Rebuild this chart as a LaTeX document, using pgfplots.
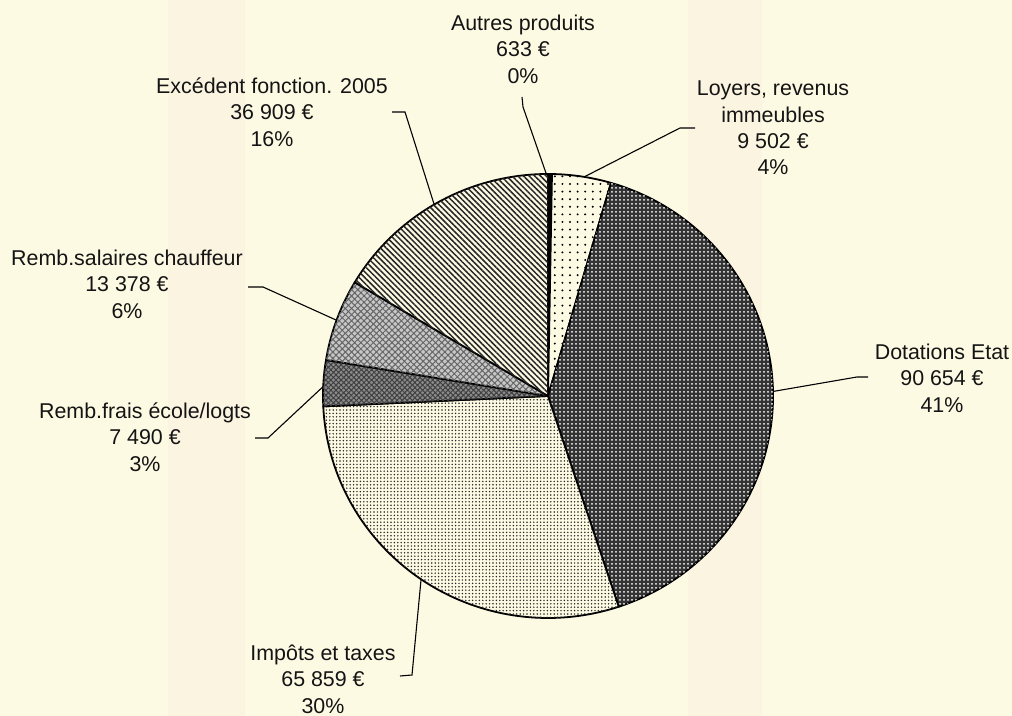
\documentclass[border=0pt]{standalone}
\usepackage{pgfplots}
\pgfplotsset{compat=1.18}
\usepackage{pgfplotstable}
\usepackage{fontspec}
\setmainfont{Liberation Sans}
\usetikzlibrary{patterns.meta}
\definecolor{paper}{RGB}{253,250,228}
\definecolor{band}{RGB}{251,244,225}
\definecolor{ink}{RGB}{20,20,20}

\pgfplotstableread{
name value
Autres 633
Loyers 9502
Dotations 90654
Impots 65859
Frais 7490
Salaires 13378
Excedent 36909
}\pietable
\pgfplotstablegetelem{0}{value}\of\pietable\let\vA\pgfplotsretval
\pgfplotstablegetelem{1}{value}\of\pietable\let\vB\pgfplotsretval
\pgfplotstablegetelem{2}{value}\of\pietable\let\vC\pgfplotsretval
\pgfplotstablegetelem{3}{value}\of\pietable\let\vD\pgfplotsretval
\pgfplotstablegetelem{4}{value}\of\pietable\let\vE\pgfplotsretval
\pgfplotstablegetelem{5}{value}\of\pietable\let\vF\pgfplotsretval
\pgfplotstablegetelem{6}{value}\of\pietable\let\vG\pgfplotsretval
\edef\total{\fpeval{\vA+\vB+\vC+\vD+\vE+\vF+\vG}}
\def\aO{90}
\edef\aA{\fpeval{round(\aO-360*\vA/\total,4)}}
\edef\aB{\fpeval{round(\aA-360*\vB/\total,4)}}
\edef\aC{\fpeval{round(\aB-360*\vC/\total,4)}}
\edef\aD{\fpeval{round(\aC-360*\vD/\total,4)}}
\edef\aE{\fpeval{round(\aD-360*\vE/\total,4)}}
\edef\aF{\fpeval{round(\aE-360*\vF/\total,4)}}
\edef\aG{\fpeval{round(\aF-360*\vG/\total,4)}}

\begin{document}
\begin{tikzpicture}[
  lbl/.style={align=center, text=ink, font=\fontsize{10.7}{13.2}\selectfont, inner sep=0pt},
  lead/.style={draw=black, line width=0.55pt},
  slice/.style={draw=black, line width=0.9pt, line join=round},
]
\begin{axis}[
  scale only axis, width=506pt, height=358pt,
  xmin=0, xmax=1012, ymin=0, ymax=716,
  hide axis, clip=false,
]
\fill[paper] (axis cs:0,0) rectangle (axis cs:1012,716);
\fill[band] (axis cs:168,0) rectangle (axis cs:245,716);
\fill[band] (axis cs:688,0) rectangle (axis cs:762,716);
\coordinate (SW) at (axis cs:0,0);
\coordinate (NE) at (axis cs:1012,716);
% leader lines
\draw[lead] (axis cs:522,619) -- (axis cs:523,609) -- (axis cs:547,540);
\draw[lead] (axis cs:695,588) -- (axis cs:680,588) -- (axis cs:582,538);
\draw[lead] (axis cs:392,604) -- (axis cs:405,604) -- (axis cs:434,512);
\draw[lead] (axis cs:248,429) -- (axis cs:263,429) -- (axis cs:336,396);
\draw[lead] (axis cs:255,278) -- (axis cs:268,278) -- (axis cs:327,333);
\draw[lead] (axis cs:868,339) -- (axis cs:857,339) -- (axis cs:770,324);
\draw[lead] (axis cs:400,40) -- (axis cs:412,41) -- (axis cs:421,136);
% slices
\filldraw[slice, fill=black]
  (axis cs:548,320) -- ([shift={(axis cs:548,320)}]\aO:112.5pt and 111pt) arc[start angle=\aO, end angle=\aA, x radius=112.5pt, y radius=111pt] -- cycle;
\filldraw[slice, fill=paper, postaction={pattern={Dots[radius=0.55pt, distance=3.8pt]}, pattern color=black}]
  (axis cs:548,320) -- ([shift={(axis cs:548,320)}]\aA:112.5pt and 111pt) arc[start angle=\aA, end angle=\aB, x radius=112.5pt, y radius=111pt] -- cycle;
\filldraw[slice, fill=black!80, postaction={pattern={Dots[radius=0.5pt, distance=2pt]}, pattern color=white}]
  (axis cs:548,320) -- ([shift={(axis cs:548,320)}]\aB:112.5pt and 111pt) arc[start angle=\aB, end angle=\aC, x radius=112.5pt, y radius=111pt] -- cycle;
\filldraw[slice, fill=paper, postaction={pattern={Dots[radius=0.42pt, distance=1.7pt]}, pattern color=black!85}]
  (axis cs:548,320) -- ([shift={(axis cs:548,320)}]\aC:112.5pt and 111pt) arc[start angle=\aC, end angle=\aD, x radius=112.5pt, y radius=111pt] -- cycle;
\filldraw[slice, fill=black!45, postaction={pattern={Hatch[angle=45, distance=1.8pt, line width=0.5pt]}, pattern color=black!75}]
  (axis cs:548,320) -- ([shift={(axis cs:548,320)}]\aD:112.5pt and 111pt) arc[start angle=\aD, end angle=\aE, x radius=112.5pt, y radius=111pt] -- cycle;
\filldraw[slice, fill=black!22, postaction={pattern={Hatch[angle=45, distance=2.2pt, line width=0.5pt]}, pattern color=black!60}]
  (axis cs:548,320) -- ([shift={(axis cs:548,320)}]\aE:112.5pt and 111pt) arc[start angle=\aE, end angle=\aF, x radius=112.5pt, y radius=111pt] -- cycle;
\filldraw[slice, fill=paper, postaction={pattern={Lines[angle=-45, distance=2pt, line width=0.75pt]}, pattern color=black!85}]
  (axis cs:548,320) -- ([shift={(axis cs:548,320)}]\aF:112.5pt and 111pt) arc[start angle=\aF, end angle=\aG, x radius=112.5pt, y radius=111pt] -- cycle;
% labels
\node[lbl] at (axis cs:523,667) {Autres produits\\633 €\\0\%};
\node[lbl] at (axis cs:773,588) {Loyers, revenus\\immeubles\\9 502 €\\4\%};
\node[lbl] at (axis cs:272,604) {Excédent fonction. 2005\\36 909 €\\16\%};
\node[lbl] at (axis cs:127,432) {Remb.salaires chauffeur\\13 378 €\\6\%};
\node[lbl] at (axis cs:145,279) {Remb.frais école/logts\\7 490 €\\3\%};
\node[lbl] at (axis cs:942,338) {Dotations Etat\\90 654 €\\41\%};
\node[lbl] at (axis cs:323,37) {Impôts et taxes\\65 859 €\\30\%};
\end{axis}
\pgfresetboundingbox
\path[use as bounding box] (SW) rectangle (NE);
\end{tikzpicture}
\end{document}
